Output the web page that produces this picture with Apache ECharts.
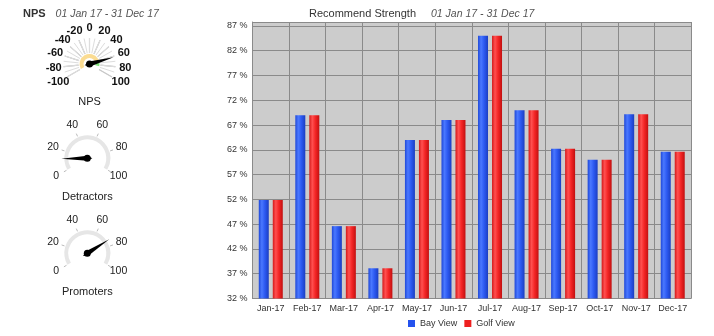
<!DOCTYPE html>
<html>
<head>
<meta charset="utf-8">
<script src="https://cdn.jsdelivr.net/npm/echarts@6/dist/echarts.min.js"></script>
<style>
html,body{margin:0;padding:0;background:#fff;}
#c{width:714px;height:336px;}
</style>
</head>
<body>
<div id="c"></div>
<script>
// ---- data ----
const categories = ['Jan-17','Feb-17','Mar-17','Apr-17','May-17','Jun-17','Jul-17','Aug-17','Sep-17','Oct-17','Nov-17','Dec-17'];
const bayView  = [51.9, 69.0, 46.6, 38.1, 64.0, 68.0, 85.0, 70.0, 62.2, 60.0, 69.2, 61.6];
const golfView = [51.9, 69.0, 46.6, 38.1, 64.0, 68.0, 85.0, 70.0, 62.2, 60.0, 69.2, 61.6];
const seriesNames = ['Bay View', 'Golf View'];
const npsValue = 62;
const detractorsValue = 12;
const promotersValue = 74;
const dateRange = '01 Jan 17 - 31 Dec 17';
const yMin = 32, yMax = 87.8, yStep = 5;
const npsRange = [-100, 100], npsStep = 20;
const pctRange = [0, 100], pctStep = 20;

const FONT = 'Arial, "Liberation Sans", sans-serif';
const chart = echarts.init(document.getElementById('c'), null, {renderer: 'canvas'});

function barGradient(stops) {
  return new echarts.graphic.LinearGradient(0, 0, 1, 0, stops.map((c, i) => ({offset: [0, 0.3, 0.6, 1][i], color: c})));
}
const blueGrad = barGradient(['#1f48d8', '#4a78ff', '#2d5af2', '#1b3ec2']);
const redGrad  = barGradient(['#d41a1a', '#ff5050', '#f42626', '#c21010']);

const START = 210, SPAN = 240;

// label ring built on a polar angle axis (covers SPAN degrees of 360)
function labelAngleAxis(polarIndex, range, step, margin, font) {
  const extMax = range[0] + (range[1] - range[0]) * 360 / SPAN;
  return {
    polarIndex: polarIndex,
    type: 'value',
    startAngle: START,
    clockwise: true,
    min: range[0], max: extMax, interval: step,
    axisLine: {show: false}, axisTick: {show: false}, splitLine: {show: false},
    axisLabel: {
      margin: margin,
      lineHeight: 1,
      formatter: v => (v > range[1] ? '' : '{a|' + v + '}'),
      rich: {a: Object.assign({width: 1, align: 'center', lineHeight: 1, fontFamily: FONT}, font)}
    }
  };
}

function smallGauge(center, value, name) {
  return {
    type: 'gauge',
    center: center,
    radius: 23,
    startAngle: START,
    endAngle: START - SPAN,
    min: pctRange[0], max: pctRange[1],
    splitNumber: 5,
    axisLine: {lineStyle: {width: 4, color: [[1, '#e6e6e6']]}},
    axisTick: {show: false},
    splitLine: {show: true, length: 3, distance: -8, lineStyle: {color: '#bbbbbb', width: 1}},
    axisLabel: {show: false},
    pointer: {show: true, length: 26, width: 2.5, itemStyle: {color: '#000'}},
    anchor: {show: true, size: 7, showAbove: true, itemStyle: {color: '#000'}},
    title: {show: true, offsetCenter: [0, 38.5], fontSize: 11, color: '#222', fontFamily: FONT},
    detail: {show: false},
    data: [{value: value, name: name}]
  };
}

const option = {
  animation: false,
  backgroundColor: '#fff',
  textStyle: {fontFamily: FONT},
  title: [
    {
      left: 18, top: 0,
      text: '{b|NPS}  {i|' + dateRange + '}',
      textStyle: {rich: {
        b: {fontSize: 11, fontWeight: 'bold', color: '#333', fontFamily: FONT},
        i: {fontSize: 10.5, fontWeight: 'normal', fontStyle: 'italic', color: '#555', fontFamily: FONT}
      }}
    },
    {
      left: 304, top: 0,
      text: '{b|Recommend Strength}   {i|' + dateRange + '}',
      textStyle: {rich: {
        b: {fontSize: 11, fontWeight: 'normal', color: '#333', fontFamily: FONT},
        i: {fontSize: 10.5, fontWeight: 'normal', fontStyle: 'italic', color: '#555', fontFamily: FONT}
      }}
    }
  ],
  legend: {
    left: 403, top: 314,
    itemWidth: 7, itemHeight: 7, itemGap: 7,
    icon: 'rect',
    textStyle: {fontSize: 9, color: '#333', fontFamily: FONT},
    data: [
      {name: seriesNames[0], itemStyle: {color: '#2452ee'}},
      {name: seriesNames[1], itemStyle: {color: '#ee2020'}}
    ]
  },
  grid: {
    left: 252.5, right: 23, top: 22, bottom: 37.5,
    show: true, backgroundColor: '#cccccc', borderWidth: 0
  },
  polar: [
    {center: [89.5, 64], radius: 24},
    {center: [87.3, 158.3], radius: 24},
    {center: [87.3, 253.3], radius: 24}
  ],
  angleAxis: [
    labelAngleAxis(0, npsRange, npsStep, 11.5, {fontSize: 11, fontWeight: 'bold', color: '#111'}),
    labelAngleAxis(1, pctRange, pctStep, 11.5, {fontSize: 10.5, color: '#222'}),
    labelAngleAxis(2, pctRange, pctStep, 11.5, {fontSize: 10.5, color: '#222'})
  ],
  radiusAxis: [0, 1, 2].map(i => ({polarIndex: i, type: 'value', min: 0, max: 1, show: false,
    axisLine: {show: false}, axisTick: {show: false}, axisLabel: {show: false}, splitLine: {show: false}})),
  xAxis: {
    type: 'category',
    data: categories,
    boundaryGap: true,
    axisTick: {show: false},
    axisLine: {show: true, lineStyle: {color: '#8a8a8a'}},
    splitLine: {show: true, lineStyle: {color: '#8a8a8a', width: 1}},
    axisLabel: {fontSize: 9, color: '#333', margin: 6, interval: 0, fontFamily: FONT}
  },
  yAxis: {
    type: 'value',
    min: yMin, max: yMax, interval: yStep,
    axisLine: {show: true, lineStyle: {color: '#8a8a8a'}},
    axisTick: {show: false},
    splitLine: {show: true, lineStyle: {color: '#8a8a8a', width: 1}},
    axisLabel: {fontSize: 9, color: '#333', margin: 5, showMaxLabel: false, formatter: '{value} %', fontFamily: FONT}
  },
  series: [
    {
      name: seriesNames[0], type: 'bar', data: bayView,
      barWidth: 10, barGap: '40%',
      itemStyle: {color: blueGrad}
    },
    {
      name: seriesNames[1], type: 'bar', data: golfView,
      barWidth: 10, barGap: '40%',
      itemStyle: {color: redGrad}
    },
    // NPS gauge: coloured inner arc
    {
      type: 'gauge',
      center: [89.5, 64],
      radius: 10,
      startAngle: START, endAngle: START - SPAN,
      min: npsRange[0], max: npsRange[1],
      axisLine: {lineStyle: {width: 4, color: [[0.78, '#fbdc92'], [0.82, 'rgba(0,0,0,0)'], [0.93, '#7fe07a'], [1, 'rgba(0,0,0,0)']]}},
      axisTick: {show: false}, splitLine: {show: false}, axisLabel: {show: false},
      pointer: {show: false}, anchor: {show: false}, title: {show: false}, detail: {show: false},
      data: [{value: npsValue}]
    },
    // NPS gauge: spokes and needle
    {
      type: 'gauge',
      center: [89.5, 64],
      radius: 26,
      startAngle: START, endAngle: START - SPAN,
      min: npsRange[0], max: npsRange[1],
      splitNumber: 10,
      axisLine: {lineStyle: {width: 0, color: [[1, 'rgba(0,0,0,0)']]}},
      splitLine: {show: true, length: 15, distance: 0, lineStyle: {color: '#c8c8c8', width: 1.2}},
      axisTick: {show: true, splitNumber: 2, length: 15, distance: 0, lineStyle: {color: '#dddddd', width: 1}},
      axisLabel: {show: false},
      pointer: {show: true, length: 25, width: 2.5, itemStyle: {color: '#000'}},
      anchor: {show: true, size: 7, showAbove: true, itemStyle: {color: '#000'}},
      title: {show: true, offsetCenter: [0, 37.5], fontSize: 11, color: '#222', fontFamily: FONT},
      detail: {show: false},
      data: [{value: npsValue, name: 'NPS'}]
    },
    smallGauge([87.3, 158.3], detractorsValue, 'Detractors'),
    smallGauge([87.3, 253.3], promotersValue, 'Promoters')
  ]
};
chart.setOption(option);
</script>
</body>
</html>
